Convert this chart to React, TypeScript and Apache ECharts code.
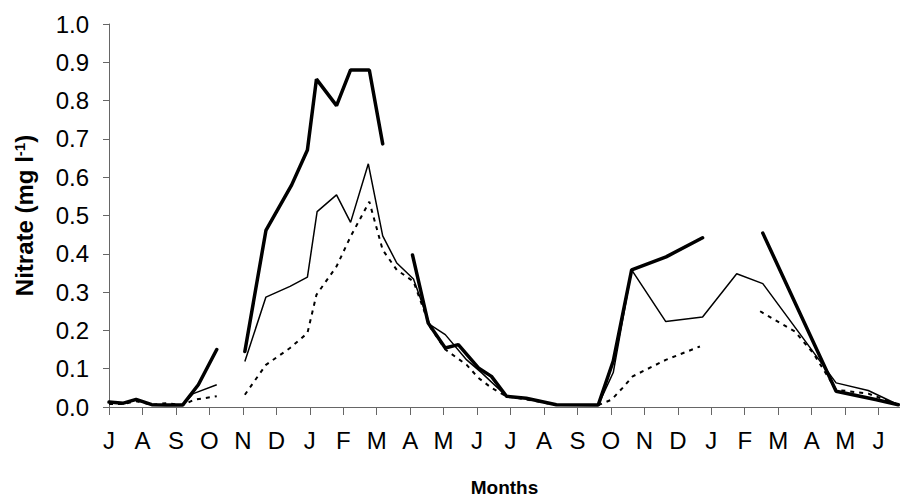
import React, { useEffect, useRef } from "react";
import * as echarts from "echarts";

// Month labels shown under the x-axis ticks (one per month, Jul -> Jun, two years)
const monthLabels = ["J", "A", "S", "O", "N", "D", "J", "F", "M", "A", "M", "J", "J", "A", "S", "O", "N", "D", "J", "F", "M", "A", "M", "J"];

// Sampling positions (in months from the first July tick) and nitrate values (mg l-1); null = gap
const thickX = [0, 0.43, 0.81, 1.28, 1.72, 2.2, 2.67, 3.22, 3.6, 4.06, 4.69, 5.46, 5.93, 6.2, 6.8, 7.22, 7.78, 8.18, 8.6, 9.07, 9.54, 10.05, 10.44, 11.04, 11.43, 11.88, 12.47, 13.37, 14.62, 15.07, 15.62, 16.65, 17.74, 18.6, 19.54, 21.73, 22.94, 23.59];
const thickY = [0.013, 0.01, 0.02, 0.006, 0.005, 0.005, 0.058, 0.15, null, 0.145, 0.461, 0.58, 0.671, 0.856, 0.787, 0.88, 0.88, 0.687, null, 0.397, 0.219, 0.154, 0.163, 0.102, 0.08, 0.028, 0.023, 0.006, 0.005, 0.12, 0.358, 0.392, 0.442, null, 0.454, 0.041, 0.019, 0.006];

const thinX = [0, 0.43, 0.81, 1.28, 1.72, 2.2, 2.52, 3.22, 3.6, 4.06, 4.69, 5.41, 5.93, 6.22, 6.8, 7.22, 7.75, 8.18, 8.6, 9.1, 9.59, 10.05, 10.69, 11.14, 11.88, 12.47, 13.37, 14.62, 15.07, 15.62, 16.64, 17.74, 18.76, 19.54, 21.73, 22.69, 23.59];
const thinY = [0.01, 0.01, 0.018, 0.005, 0.005, 0.005, 0.035, 0.058, null, 0.119, 0.287, 0.315, 0.339, 0.51, 0.554, 0.482, 0.635, 0.447, 0.376, 0.334, 0.215, 0.189, 0.123, 0.089, 0.028, 0.023, 0.006, 0.005, 0.09, 0.358, 0.223, 0.235, 0.348, 0.322, 0.063, 0.043, 0.006];

const dashX = [0, 0.43, 0.81, 1.28, 1.72, 2.2, 2.55, 3.22, 3.6, 4.06, 4.69, 5.41, 5.93, 6.2, 6.8, 7.22, 7.78, 8.18, 8.6, 9.1, 9.59, 10.05, 10.69, 11.04, 11.43, 11.88, 12.47, 13.37, 14.62, 15.02, 15.35, 15.65, 16.64, 17.66, 18.5, 19.46, 20.5, 21.05, 21.73, 22.69, 23.59];
const dashY = [0.008, 0.008, 0.015, 0.006, 0.01, 0.005, 0.019, 0.028, null, 0.032, 0.11, 0.154, 0.193, 0.293, 0.367, 0.445, 0.536, 0.41, 0.358, 0.328, 0.21, 0.15, 0.11, 0.076, 0.05, 0.028, 0.02, 0.005, 0.005, 0.019, 0.05, 0.08, 0.123, 0.158, null, 0.25, 0.197, 0.14, 0.045, 0.035, 0.006];

const yTicks = [0, 0.1, 0.2, 0.3, 0.4, 0.5, 0.6, 0.7, 0.8, 0.9, 1.0];

const pair = (xs: number[], ys: (number | null)[]) =>
  xs.map((x, i) => (ys[i] === null ? [x, "-"] : [x, ys[i]]));

const FONT = 'Arial, "Liberation Sans", sans-serif';

export default function App() {
  const ref = useRef<HTMLDivElement>(null);
  useEffect(() => {
    if (!ref.current) return;
    const chart = echarts.init(ref.current, null, { renderer: "svg" });
    const tickIdx = monthLabels.map((_, i) => i);
    chart.setOption({
      animation: false,
      backgroundColor: "#ffffff",
      grid: { left: 109, right: 0, top: 24, bottom: 95, containLabel: false },
      xAxis: {
        type: "value",
        min: 0,
        max: 23.64,
        name: "Months",
        nameLocation: "middle",
        nameGap: 71,
        nameTextStyle: { fontFamily: FONT, fontSize: 19, fontWeight: "bold", color: "#000" },
        splitLine: { show: false },
        axisLine: { show: true, lineStyle: { color: "#666", width: 1 } },
        axisTick: { show: true, inside: false, length: 8, lineStyle: { color: "#666" }, customValues: tickIdx },
        axisLabel: {
          margin: 21,
          fontFamily: FONT,
          fontSize: 24,
          color: "#000",
          customValues: tickIdx,
          formatter: (v: number) => monthLabels[Math.round(v)] ?? "",
        },
      },
      yAxis: {
        type: "value",
        min: 0,
        max: 1,
        interval: 0.1,
        name: "Nitrate (mg l{sup|-1})",
        nameLocation: "middle",
        nameGap: 72,
        nameTextStyle: {
          fontFamily: FONT,
          fontSize: 24,
          fontWeight: "bold",
          color: "#000",
          rich: { sup: { fontFamily: FONT, fontSize: 15, fontWeight: "bold", color: "#000", verticalAlign: "top", padding: [0, 0, 10, 0] } },
        },
        splitLine: { show: false },
        axisLine: { show: true, lineStyle: { color: "#666", width: 1 } },
        axisTick: { show: true, length: 6, lineStyle: { color: "#666" } },
        axisLabel: {
          margin: 20,
          fontFamily: FONT,
          fontSize: 24,
          color: "#000",
          formatter: (v: number) => {
            const t = yTicks.find((y) => Math.abs(y - v) < 1e-6);
            return t === undefined ? "" : t.toFixed(1);
          },
        },
      },
      series: [
        {
          type: "line",
          data: pair(dashX, dashY),
          showSymbol: false,
          symbol: "none",
          lineStyle: { color: "#000", width: 2, type: [4, 5] },
          z: 2,
        },
        {
          type: "line",
          data: pair(thinX, thinY),
          showSymbol: false,
          symbol: "none",
          lineStyle: { color: "#000", width: 1.5 },
          z: 3,
        },
        {
          type: "line",
          data: pair(thickX, thickY),
          showSymbol: false,
          symbol: "none",
          lineStyle: { color: "#000", width: 3.5, cap: "round" },
          z: 4,
        },
      ],
    });
    return () => chart.dispose();
  }, []);
  return <div ref={ref} style={{ position: "absolute", left: 0, top: 0, width: 900, height: 502 }} />;
}
